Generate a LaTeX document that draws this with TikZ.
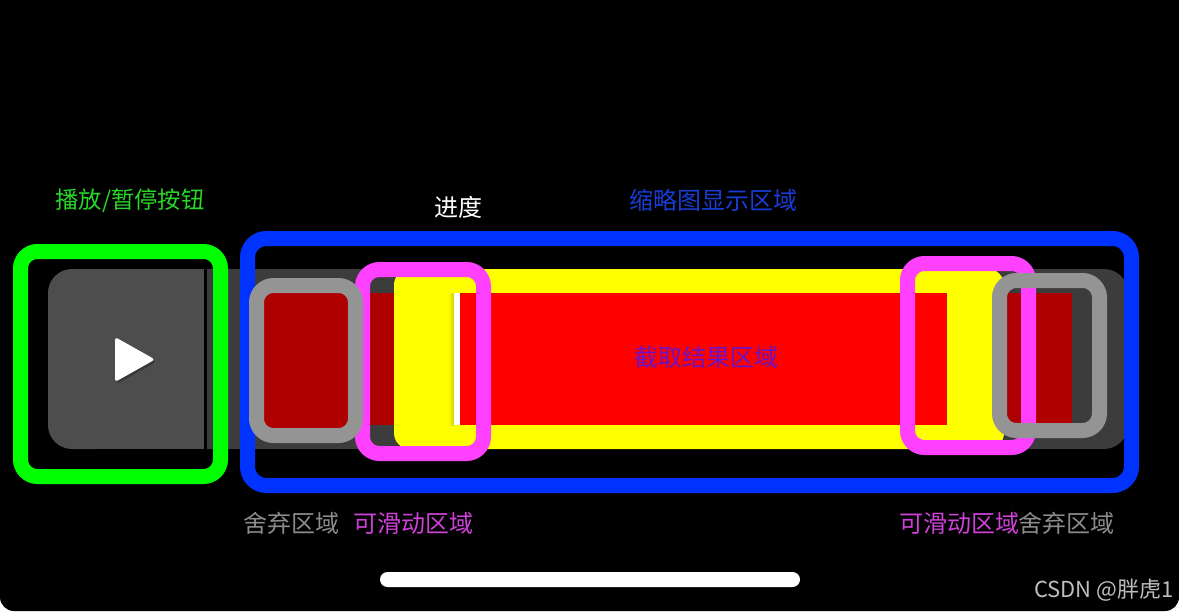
\documentclass[tikz,border=0pt]{standalone}
\usepackage{fontspec}
\setmainfont{Noto Sans CJK SC}
\definecolor{track}{RGB}{60,60,60}
\definecolor{btnbg}{RGB}{77,77,77}
\definecolor{dropred}{RGB}{174,0,0}
\definecolor{cutyellow}{RGB}{255,255,0}
\definecolor{cutred}{RGB}{255,0,0}
\definecolor{ringgreen}{RGB}{0,255,0}
\definecolor{ringblue}{RGB}{0,51,255}
\definecolor{ringpink}{RGB}{255,64,255}
\definecolor{ringgray}{RGB}{148,148,148}
\tikzset{
    ring/.style={line width=15pt, rounded corners=17pt},
    lbl/.style={font=\fontsize{24}{26}\selectfont, inner sep=0pt},
}
\begin{document}
\begin{tikzpicture}[x=1pt,y=-1pt]
    \useasboundingbox (0,0) rectangle (1179,611);
    \fill[white] (0,0) rectangle (1179,611);
    \fill[black, rounded corners=14pt] (0,0) rectangle (1179,611);
    \fill[black] (0,0) rectangle (1179,40);
    % bande de fond
    \fill[track, rounded corners=24pt] (180,269) rectangle (1128,449);
    \fill[black] (204,269) rectangle (207,449);
    \fill[btnbg, rounded corners=24pt] (48,269) rectangle (120,449);
    \fill[btnbg] (80,269) rectangle (204,449);
    % bouton
    \fill[black, opacity=0.25, rounded corners=3pt] (117,341) -- (156,362) -- (117,384) -- cycle;
    \fill[white, rounded corners=3pt] (115,337) -- (155,359.5) -- (115,382) -- cycle;
    % selection
    \fill[dropred, rounded corners=8pt] (264,293) rectangle (348,428);
    \fill[dropred] (370,293) rectangle (400,425);
    \fill[cutyellow, rounded corners=16pt] (394,269) rectangle (1004,449);
    \fill[cutred] (460,293) rectangle (947,425);
    \shade[left color=cutyellow, right color=cutyellow!82!black] (448,293) rectangle (454,425);
    \fill[white] (454,293) rectangle (460,425);
    \fill[dropred] (1007,293) rectangle (1072,423);
    % cadres
    \draw[ring, ringgreen] (20.5,251.5) rectangle (220.5,476.5);
    \draw[ring, ringblue, rounded corners=19pt] (247.5,238.5) rectangle (1131.5,485.5);
    \draw[ring, ringpink] (362.5,269.5) rectangle (483.5,453.5);
    \draw[ring, ringpink] (907.5,263.5) rectangle (1028.5,447.5);
    \draw[ring, ringgray] (256.5,285.5) rectangle (355.5,435.5);
    \draw[ring, ringgray] (999.5,280.5) rectangle (1099.5,430.5);
    % barre du bas
    \fill[white, rounded corners=7.5pt] (380,572) rectangle (800,587);
    % textes
    \node[lbl, font=\fontsize{23.3}{26}\selectfont, text={rgb,255:red,40;green,215;blue,40}] (playlbl) at (130,201) {播放/暂停按钮};
    \node[lbl, text=white] (proglbl) at (458,207) {进度};
    \node[lbl, text={rgb,255:red,25;green,60;blue,215}] (thumblbl) at (713,200) {缩略图显示区域};
    \node[lbl, text={rgb,255:red,105;green,20;blue,200}] (cutlbl) at (706,357) {截取结果区域};
    \node[lbl, text={rgb,255:red,140;green,140;blue,140}] (dropl) at (291,523) {舍弃区域};
    \node[lbl, text={rgb,255:red,205;green,65;blue,215}] (slidel) at (413,523) {可滑动区域};
    \node[lbl, text={rgb,255:red,205;green,65;blue,215}] (slider) at (959,523) {可滑动区域};
    \node[lbl, text={rgb,255:red,140;green,140;blue,140}] (dropr) at (1066,523) {舍弃区域};
    \node[lbl, font=\fontsize{22}{24}\selectfont, anchor=east, text={rgb,255:red,190;green,190;blue,190}] (mark) at (1174,590) {CSDN @胖虎1};
\end{tikzpicture}
\end{document}
